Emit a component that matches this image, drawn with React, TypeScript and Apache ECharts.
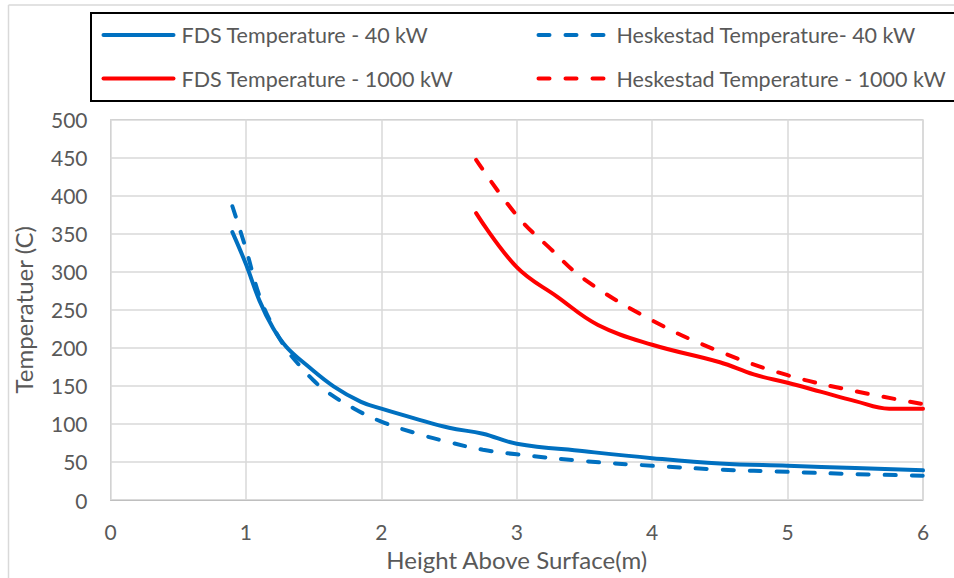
import React, { useEffect, useRef } from "react";
import * as echarts from "echarts";

const fds40X = [0.9, 1.0, 1.1, 1.2, 1.3, 1.45, 1.65, 1.85, 2.0, 2.25, 2.5, 2.75, 3.0, 3.5, 4.0, 4.5, 5.0, 5.5, 6.0];
const fds40Y = [352, 310, 262, 226, 201, 177, 149, 129, 120, 107, 95, 87, 74, 64, 55, 48, 45, 42, 39];

const hesk40X = [0.9, 1.0, 1.1, 1.2, 1.3, 1.4, 1.5, 1.6, 1.8, 2.0, 2.25, 2.5, 2.75, 3.0, 3.5, 4.0, 4.5, 5.0, 5.5, 6.0];
const hesk40Y = [386, 330, 268, 228, 198, 176, 157, 142, 120, 103, 88, 76, 66, 60, 51, 45, 40, 37, 34, 32];

const fds1000X = [2.7, 3.0, 3.3, 3.6, 4.0, 4.5, 4.75, 5.0, 5.25, 5.5, 5.75, 6.0];
const fds1000Y = [377, 306, 267, 230, 204, 181, 165, 154, 142, 130, 120, 120];

const hesk1000X = [2.7, 3.0, 3.25, 3.5, 4.0, 4.5, 5.0, 5.5, 6.0];
const hesk1000Y = [447, 374, 330, 290, 236, 195, 164, 143, 126];

const seriesNames = [
  "FDS Temperature - 40 kW",
  "Heskestad Temperature- 40 kW",
  "FDS Temperature - 1000 kW",
  "Heskestad Temperature - 1000 kW",
];

const BLUE = "#0070C0";
const RED = "#FF0000";
const TEXT = "#595959";
const FONT = "Lato";

const zip = (xs: number[], ys: number[]) => xs.map((x, i) => [x, ys[i]]);

export default function App() {
  const ref = useRef<HTMLDivElement>(null);
  useEffect(() => {
    if (!ref.current) return;
    const chart = echarts.init(ref.current, null, { renderer: "svg" });
    const dash = [11, 16];
    const mk = (name: string, xs: number[], ys: number[], color: string, dashed: boolean) => ({
      name,
      type: "line",
      data: zip(xs, ys),
      smooth: 0.4,
      showSymbol: false,
      symbol: "none",
      lineStyle: { color, width: 4, type: dashed ? dash : "solid", cap: "round" },
      itemStyle: { color },
    });
    const legendCommon = {
      orient: "vertical",
      top: 24,
      padding: 0,
      itemWidth: 70,
      itemHeight: 22,
      itemGap: 21.5,
      itemStyle: { opacity: 0 },
      lineStyle: { width: 4, cap: "round" },
      textStyle: { color: TEXT, fontSize: 21.5, fontFamily: FONT, lineHeight: 22, padding: [0, 0, 0, 3] },
    };
    chart.setOption({
      animation: false,
      backgroundColor: "#ffffff",
      textStyle: { fontFamily: FONT },
      grid: {
        left: 110.5,
        right: 31,
        top: 119.5,
        bottom: 78,
        show: true,
        borderColor: "#bfbfbf",
        borderWidth: 1,
      },
      legend: [
        { ...legendCommon, left: 101.5, data: [seriesNames[0], seriesNames[2]] },
        { ...legendCommon, left: 536.5, data: [seriesNames[1], seriesNames[3]] },
      ],
      xAxis: {
        type: "value",
        min: 0,
        max: 6,
        interval: 1,
        name: "Height Above Surface(m)",
        nameLocation: "middle",
        nameGap: 47,
        nameTextStyle: { color: TEXT, fontSize: 24, fontFamily: FONT },
        axisLine: { show: true, lineStyle: { color: "#bfbfbf", width: 1 } },
        axisTick: { show: false },
        axisLabel: { color: TEXT, fontSize: 21, margin: 21, fontFamily: FONT },
        splitLine: { show: true, lineStyle: { color: "#d9d9d9", width: 1.5 } },
      },
      yAxis: {
        type: "value",
        min: 0,
        max: 500,
        interval: 50,
        name: "Temperatuer (C)",
        nameLocation: "middle",
        nameGap: 75,
        nameTextStyle: { color: TEXT, fontSize: 24, fontFamily: FONT },
        axisLine: { show: false },
        axisTick: { show: false },
        axisLabel: { color: TEXT, fontSize: 21, margin: 23, fontFamily: FONT },
        splitLine: { show: true, lineStyle: { color: "#d9d9d9", width: 1.5 } },
      },
      graphic: [
        {
          type: "line",
          shape: { x1: 8.5, y1: 5, x2: 954, y2: 5 },
          style: { stroke: "#d9d9d9", lineWidth: 1.5 },
        },
        {
          type: "line",
          shape: { x1: 8.5, y1: 5, x2: 8.5, y2: 578 },
          style: { stroke: "#d9d9d9", lineWidth: 1.5 },
        },
        {
          type: "rect",
          shape: { x: 91, y: 13, width: 900, height: 88 },
          style: { fill: "none", stroke: "#000000", lineWidth: 2 },
          z: 10,
        },
      ],
      series: [
        mk(seriesNames[0], fds40X, fds40Y, BLUE, false),
        mk(seriesNames[1], hesk40X, hesk40Y, BLUE, true),
        mk(seriesNames[2], fds1000X, fds1000Y, RED, false),
        mk(seriesNames[3], hesk1000X, hesk1000Y, RED, true),
      ],
    });
    return () => chart.dispose();
  }, []);
  return (
    <div
      ref={ref}
      style={{ position: "absolute", left: 0, top: 0, width: 954, height: 578, background: "#fff" }}
    />
  );
}
